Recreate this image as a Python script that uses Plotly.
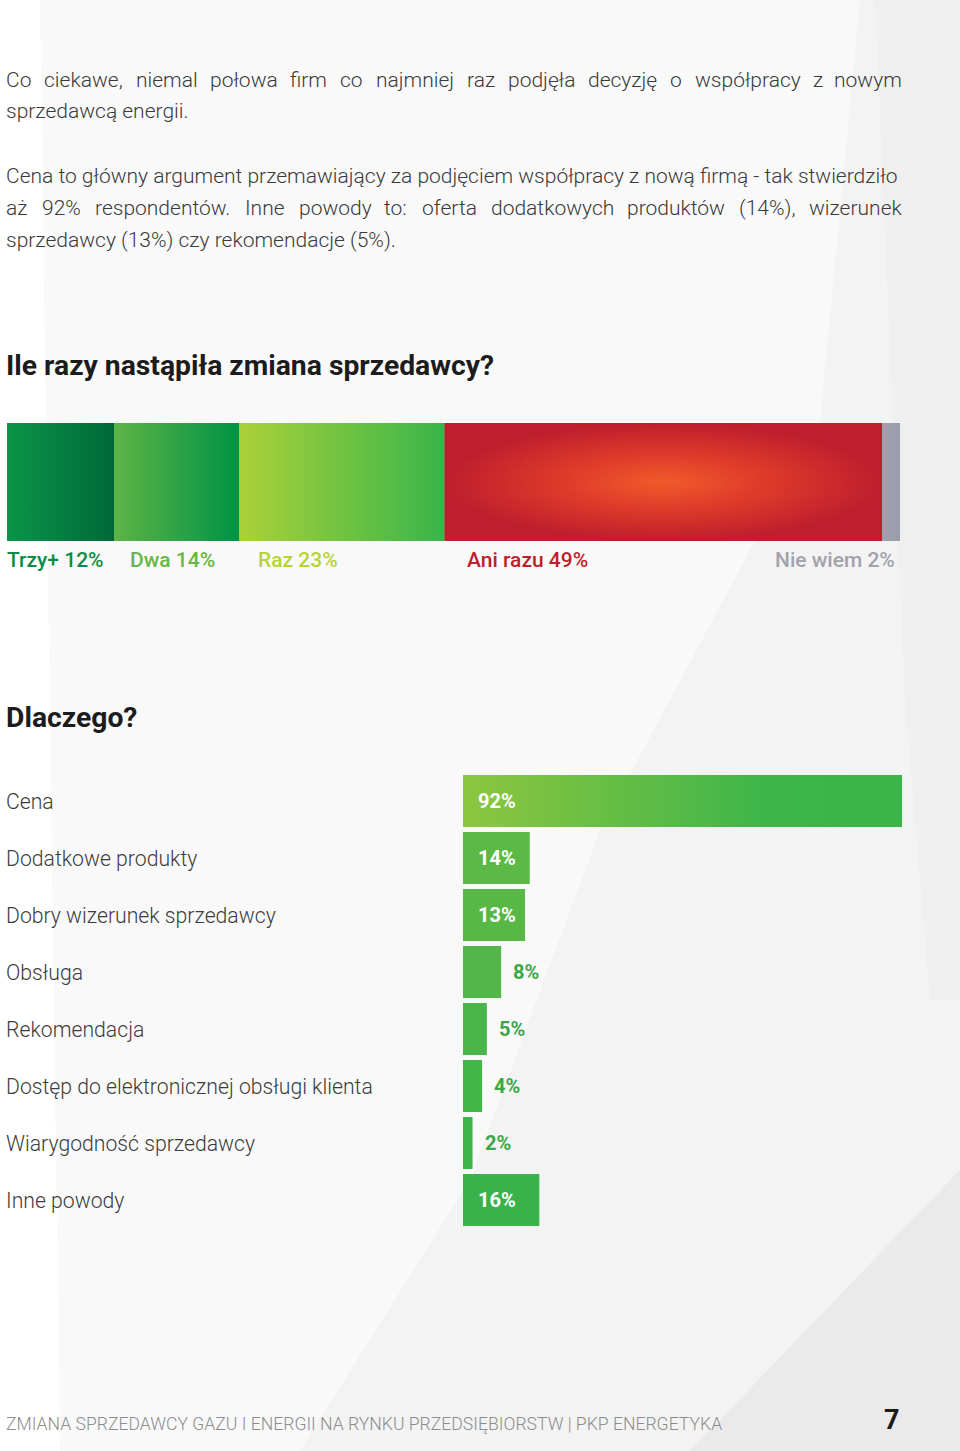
import plotly.graph_objects as go
import numpy as np

# ---------------- data ----------------
switch_labels = ["Trzy+", "Dwa", "Raz", "Ani razu", "Nie wiem"]
switch_values = [12, 14, 23, 49, 2]
switch_base_colors = ["#03813f", "#2ea548", "#72c043", "#d9352a", "#9fa0ad"]
switch_grad_left = ["#0a9548", "#5eb446", "#aad139", "#f05a2a", "#a0a1ae"]
switch_grad_right = ["#006837", "#009245", "#39b54a", "#be1e2d", "#9c9daa"]
switch_text_colors = ["#0b8c46", "#66b846", "#b8d432", "#be1e2d", "#a2a2ae"]

reasons = ["Cena", "Dodatkowe produkty", "Dobry wizerunek sprzedawcy", "Obsługa",
           "Rekomendacja", "Dostęp do elektronicznej obsługi klienta",
           "Wiarygodność sprzedawcy", "Inne powody"]
reason_values = [92, 14, 13, 8, 5, 4, 2, 16]
reason_colors = ["#5cb946", "#5db946", "#58b846", "#50b748", "#4ab649", "#44b549", "#3eb44a", "#39b24a"]

para1_line1 = "Co ciekawe, niemal połowa firm co najmniej raz podjęła decyzję o współpracy z nowym"
para1_line2 = "sprzedawcą energii."
para2_line1 = "Cena to główny argument przemawiający za podjęciem współpracy z nową firmą - tak stwierdziło"
para2_line2 = "aż 92% respondentów. Inne powody to: oferta dodatkowych produktów (14%), wizerunek"
para2_line3 = "sprzedawcy (13%) czy rekomendacje (5%)."
heading1 = "Ile razy nastąpiła zmiana sprzedawcy?"
heading2 = "Dlaczego?"
footer = "ZMIANA SPRZEDAWCY GAZU I ENERGII NA RYNKU PRZEDSIĘBIORSTW | PKP ENERGETYKA"
page_no = "7"

# ---------------- layout helpers ----------------
W, H = 960, 1451


def xp(px):
    return px / W


def yp(py):
    return 1 - py / H


# approximate Roboto advance widths (em) used only to justify text lines
CHAR_W = {
    'a': .531, 'b': .547, 'c': .511, 'd': .549, 'e': .517, 'f': .339, 'g': .547, 'h': .537,
    'i': .237, 'j': .233, 'k': .495, 'l': .237, 'm': .855, 'n': .538, 'o': .556, 'p': .547,
    'r': .331, 's': .503, 't': .319, 'u': .537, 'w': .732, 'y': .461, 'z': .484, 'ę': .517,
    'ó': .556, 'ł': .245, 'ą': .531, 'ż': .484, 'C': .637, 'I': .273, '(': .334, ')': .339,
    '%': .715, ',': .192, '.': .257, ':': .236,
}


def word_width(w, size):
    return sum(CHAR_W.get(ch, .562) for ch in w) * size


def justify(line, x0, x1, size):
    words = line.split(" ")
    widths = [word_width(w, size) for w in words]
    gap = (x1 - x0 - sum(widths)) / (len(words) - 1)
    xs, x = [], x0
    for wd in widths:
        xs.append(x)
        x += wd + gap
    return words, xs


FONT = "Roboto"
BODY = 21
fig = go.Figure()

# ---------------- stacked bar ----------------
starts = np.concatenate([[0], np.cumsum(switch_values)[:-1]])
for i, (lab, v) in enumerate(zip(switch_labels, switch_values)):
    fig.add_trace(go.Bar(x=[v], y=[0], base=[starts[i]], orientation="h", width=1,
                         marker=dict(color=switch_base_colors[i], line=dict(width=0)),
                         xaxis="x", yaxis="y", name=lab, hoverinfo="skip"))
    s, e = starts[i], starts[i] + v
    if lab == "Ani razu":
        grad = dict(type="radial",
                    colorscale=[[0, "#f05a2a"], [0.45, "#de3c2a"], [1, "#be1e2d"]])
    else:
        grad = dict(type="horizontal",
                    colorscale=[[0, switch_grad_left[i]], [1, switch_grad_right[i]]])
    fig.add_trace(go.Scatter(x=[s, e, e, s, s], y=[-0.5, -0.5, 0.5, 0.5, -0.5],
                             mode="lines", line=dict(width=0), fill="toself",
                             fillgradient=grad, xaxis="x", yaxis="y",
                             hoverinfo="skip", showlegend=False))

# ---------------- horizontal bars ----------------
idx = list(range(len(reasons)))
BW = 0.912
fig.add_trace(go.Bar(x=reason_values, y=idx, orientation="h", width=BW,
                     marker=dict(color=reason_colors, line=dict(width=0)),
                     xaxis="x2", yaxis="y2", hoverinfo="skip"))
v0 = reason_values[0]
fig.add_trace(go.Scatter(x=[0, v0, v0, 0, 0],
                         y=[idx[0] - BW / 2, idx[0] - BW / 2, idx[0] + BW / 2, idx[0] + BW / 2, idx[0] - BW / 2],
                         mode="lines", line=dict(width=0), fill="toself",
                         fillgradient=dict(type="horizontal",
                                           colorscale=[[0, "#8dc63f"], [0.7, "#3db54a"], [1, "#39b54a"]]),
                         xaxis="x2", yaxis="y2", hoverinfo="skip", showlegend=False))

annotations = []
txt_color = "#3a3a3a"
SH = -2  # compensate annotation padding

body = []
for line, y in [(para1_line1, 80), (para2_line2, 208)]:
    words, xs = justify(line, 6, 902, BODY)
    for k, (w, x) in enumerate(zip(words, xs)):
        if k == len(words) - 1:
            body.append(dict(text=w, x=xp(902), y=yp(y), xanchor="right", xshift=2))
        else:
            body.append(dict(text=w, x=xp(x), y=yp(y), xanchor="left", xshift=SH))
for line, y in [(para1_line2, 111), (para2_line1, 176), (para2_line3, 240)]:
    body.append(dict(text=line, x=xp(6), y=yp(y), xanchor="left", xshift=SH))
for a in body:
    a.update(xref="paper", yref="paper", yanchor="middle", showarrow=False,
             font=dict(family=FONT, size=BODY, color=txt_color, weight=300))
annotations += body

# headings
for t, y in [(heading1, 366), (heading2, 717)]:
    annotations.append(dict(text=t, x=xp(6), y=yp(y), xref="paper", yref="paper", xshift=SH,
                            xanchor="left", yanchor="middle", showarrow=False,
                            font=dict(family=FONT, size=28.3, color="#1c1c1c", weight=700)))

# stacked labels
lab_shift = [-2, 14, 17, 20]
for i, (lab, v) in enumerate(zip(switch_labels, switch_values)):
    txt = f"{lab} {v}%"
    if i < len(switch_labels) - 1:
        annotations.append(dict(text=txt, x=starts[i], xref="x", xshift=lab_shift[i],
                                xanchor="left"))
    else:
        annotations.append(dict(text=txt, x=starts[i] + v, xref="x", xshift=-3,
                                xanchor="right"))
    annotations[-1].update(y=yp(560), yref="paper", yanchor="middle", showarrow=False,
                           font=dict(family=FONT, size=21, color=switch_text_colors[i], weight=500))

# reason labels and values
for i, (r, v) in enumerate(zip(reasons, reason_values)):
    annotations.append(dict(text=r, x=xp(6), xref="paper", xshift=SH, y=i, yref="y2",
                            xanchor="left", yanchor="middle", showarrow=False,
                            font=dict(family=FONT, size=21.2, color="#3c3c3c", weight=300)))
    if v >= 10:
        annotations.append(dict(text=f"{v}%", x=0, xref="x2", xshift=13, y=i, yref="y2",
                                xanchor="left", yanchor="middle", showarrow=False,
                                font=dict(family=FONT, size=20, color="white", weight=700)))
    else:
        annotations.append(dict(text=f"{v}%", x=v, xref="x2", xshift=10, y=i, yref="y2",
                                xanchor="left", yanchor="middle", showarrow=False,
                                font=dict(family=FONT, size=20, color="#3aa84a", weight=700)))

# footer
annotations.append(dict(text=footer, x=xp(6), y=yp(1424), xref="paper", yref="paper", xshift=SH,
                        xanchor="left", yanchor="middle", showarrow=False,
                        font=dict(family=FONT, size=17.6, color="#8c8c8c", weight=300)))
annotations.append(dict(text=page_no, x=xp(902), y=yp(1420), xref="paper", yref="paper",
                        xanchor="right", yanchor="middle", showarrow=False,
                        font=dict(family=FONT, size=27, color="#1c1c1c", weight=700)))


# background facets
def poly(pts, color):
    d = "M " + " L ".join(f"{xp(x):.5f},{yp(y):.5f}" for x, y in pts) + " Z"
    return dict(type="path", path=d, xref="paper", yref="paper", fillcolor=color,
                line=dict(width=0), layer="below")


shapes = [
    poly([(0, 0), (860, 0), (820, 420), (600, 830), (470, 1180), (300, 1451), (0, 1451)], "#f9f9f9"),
    poly([(875, 0), (960, 0), (960, 1000), (930, 1000), (905, 700)], "#efefef"),
    poly([(960, 1170), (960, 1451), (690, 1451)], "#eaeaea"),
    poly([(0, 0), (40, 0), (60, 1451), (0, 1451)], "#ffffff"),
]

fig.update_layout(
    width=W, height=H,
    margin=dict(l=0, r=0, t=0, b=0),
    paper_bgcolor="#f3f3f3", plot_bgcolor="rgba(0,0,0,0)",
    showlegend=False, barmode="overlay",
    xaxis=dict(domain=[xp(7), xp(900)], range=[0, 100], visible=False, fixedrange=True),
    yaxis=dict(domain=[yp(541), yp(423)], range=[-0.5, 0.5], visible=False, fixedrange=True),
    xaxis2=dict(domain=[xp(463), xp(902)], range=[0, 92], visible=False, anchor="y2", fixedrange=True),
    yaxis2=dict(domain=[yp(1228.5), yp(772.5)], range=[7.5, -0.5], visible=False, anchor="x2", fixedrange=True),
    annotations=annotations,
    shapes=shapes,
)

fig.write_html("out.html")
